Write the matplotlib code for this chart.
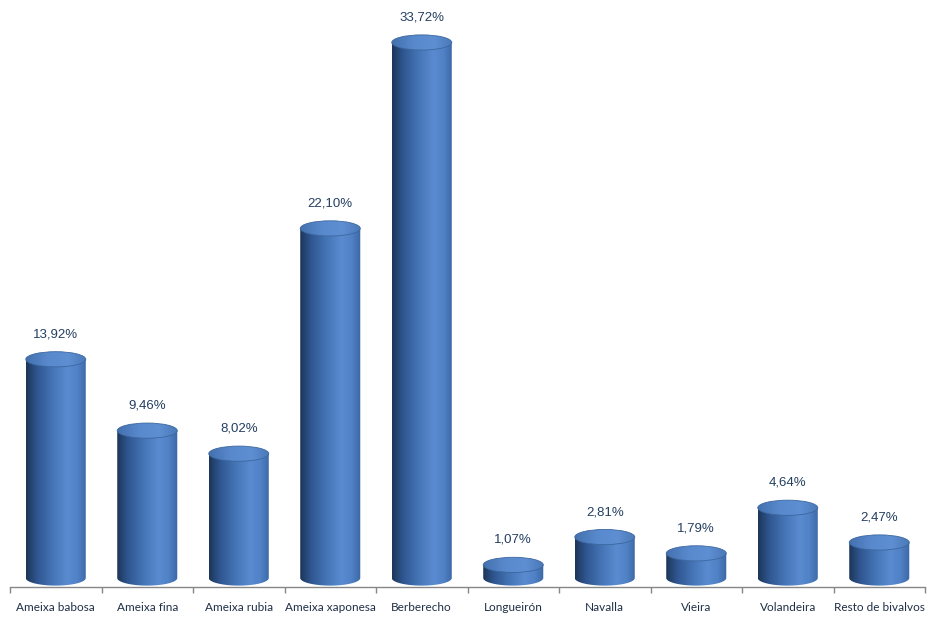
import numpy as np
import matplotlib
matplotlib.use("Agg")
import matplotlib.pyplot as plt
from matplotlib.colors import LinearSegmentedColormap
from matplotlib.patches import Ellipse, PathPatch
from matplotlib.path import Path

categories = ["Ameixa babosa", "Ameixa fina", "Ameixa rubia", "Ameixa xaponesa",
              "Berberecho", "Longueirón", "Navalla", "Vieira", "Volandeira",
              "Resto de bivalvos"]
shares = [13.92, 9.46, 8.02, 22.10, 33.72, 1.07, 2.81, 1.79, 4.64, 2.47]
labels = ["13,92%", "9,46%", "8,02%", "22,10%", "33,72%", "1,07%", "2,81%",
          "1,79%", "4,64%", "2,47%"]

body_cmap = LinearSegmentedColormap.from_list(
    "body", [(0.0, "#1c3558"), (0.18, "#2f5690"), (0.45, "#4676b8"),
             (0.68, "#5a8bd0"), (0.85, "#5082c6"), (1.0, "#3b66a4")])
top_cmap = LinearSegmentedColormap.from_list(
    "top", [(0.0, "#4470ae"), (0.35, "#5889cc"), (0.7, "#5e8fd2"),
            (1.0, "#4a78b8")])

fig = plt.figure(figsize=(9.33, 6.18), dpi=100)
ax = fig.add_axes([10 / 933, 31 / 618, 915 / 933, 587 / 618])
ax.set_xlim(0, len(categories))
ax.set_ylim(-0.3125, 36.375)

bar_w = 0.656
ell_h = 0.95
base = 0.25
grad = np.linspace(0, 1, 256).reshape(1, -1)

for i, v in enumerate(shares):
    cx = i + 0.5
    x0, x1 = cx - bar_w / 2, cx + bar_w / 2
    # body outline: side walls plus lower half of the bottom ellipse
    t = np.linspace(np.pi, 2 * np.pi, 60)
    arc = np.column_stack([cx + bar_w / 2 * np.cos(t), base + ell_h / 2 * np.sin(t)])
    verts = np.vstack([[x0, v], arc, [x1, v], [x0, v]])
    codes = [Path.MOVETO] + [Path.LINETO] * (len(verts) - 2) + [Path.CLOSEPOLY]
    body = PathPatch(Path(verts, codes), facecolor="none", edgecolor="none")
    ax.add_patch(body)
    im = ax.imshow(grad, cmap=body_cmap, aspect="auto", interpolation="bicubic",
                   extent=[x0, x1, base - ell_h, v], zorder=2)
    im.set_clip_path(body)

    top = Ellipse((cx, v), bar_w, ell_h, facecolor="none", edgecolor="#3c679f",
                  linewidth=0.6, zorder=4)
    ax.add_patch(top)
    im2 = ax.imshow(grad, cmap=top_cmap, aspect="auto", interpolation="bicubic",
                    extent=[x0, x1, v - ell_h / 2, v + ell_h / 2], zorder=3)
    im2.set_clip_path(top)

    ax.annotate(labels[i], (cx, v + ell_h / 2), xytext=(0, 12.5),
                textcoords="offset points", ha="center", va="center",
                fontsize=9.5, family="Liberation Sans", color="#243f60")

for s in ["top", "right", "left"]:
    ax.spines[s].set_visible(False)
ax.spines["bottom"].set_color("#868686")
ax.spines["bottom"].set_linewidth(1.0)
ax.set_yticks([])

ax.set_xticks(np.arange(len(categories)) + 0.5)
ax.set_xticklabels(categories, family="Lato", fontsize=8.5, color="#1f2f45")
ax.tick_params(axis="x", which="major", length=0, pad=11)
ax.set_xticks(np.arange(len(categories) + 1), minor=True)
ax.tick_params(axis="x", which="minor", length=4, color="#868686", width=1)

fig.savefig("out.png", dpi=100)
